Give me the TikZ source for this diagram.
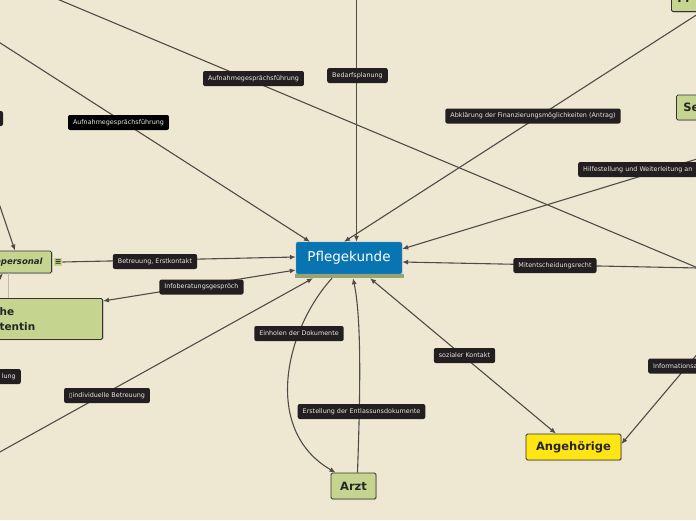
\documentclass[tikz,border=0pt]{standalone}
\usepackage{fontspec}
\setmainfont{DejaVu Sans}
\usepackage{xcolor}
\usepackage{tikz}
\usetikzlibrary{arrows.meta,positioning,calc,shadows}
\definecolor{mapbg}{RGB}{238,232,211}
\definecolor{lblbg}{RGB}{35,31,32}
\definecolor{lbltxt}{RGB}{232,230,226}
\definecolor{linkcol}{RGB}{80,75,70}
\definecolor{topicgreen}{RGB}{197,213,143}
\definecolor{topicyellow}{RGB}{255,229,20}
\definecolor{kundeblue}{RGB}{8,116,178}
\definecolor{kundebar}{RGB}{152,163,116}
\tikzset{
  lbl/.style={fill=lblbg, text=lbltxt, rounded corners=2pt, font=\fontsize{6.4}{7}\selectfont,
              minimum height=15pt, inner xsep=5pt, inner ysep=0pt},
  lblblack/.style={lbl, fill=black},
  topic/.style={draw=black!80, fill=topicgreen, rounded corners=1.5pt, line width=0.8pt,
                font=\fontsize{11.5}{13}\selectfont\bfseries, text=black!85, inner sep=0pt,
                drop shadow={shadow xshift=1pt, shadow yshift=-1pt, opacity=0.25}},
  link/.style={draw=linkcol, line width=1.1pt},
  linkarrow/.style={link, -{Latex[length=6pt,width=5pt]}},
  linkboth/.style={link, {Latex[length=6pt,width=5pt]}-{Latex[length=6pt,width=5pt]}}
}
\begin{document}
\begin{tikzpicture}[x=1pt,y=-1pt]
\useasboundingbox (0,0) rectangle (696,520);
\clip (0,0) rectangle (696,520);
\fill[mapbg] (0,0) rectangle (696,520);

\node[fill=kundeblue, draw=kundeblue!70!white, text=white, rounded corners=1.5pt,
      minimum width=106pt, minimum height=32pt, inner sep=0pt,
      font=\fontsize{13.5}{15}\selectfont] (kunde) at (349,258) {Pflegekunde};
\fill[kundebar] ([xshift=-1pt]kunde.south west) rectangle ([xshift=2pt,yshift=-4pt]kunde.south east);
\node[topic, minimum width=45pt, minimum height=26pt] (arzt) at (353.5,486) {Arzt};
\node[topic, fill=topicyellow, minimum width=95pt, minimum height=26pt] (ang) at (573.5,447) {Angehörige};
\node[topic, anchor=east, minimum height=22pt, inner xsep=9pt,
      font=\fontsize{8.5}{10}\selectfont\bfseries\itshape] (personal) at (52,262) {epersonal};
\node[fill=topicgreen, minimum size=8pt, inner sep=0pt, text=black!85,
      font=\fontsize{8}{8}\selectfont\bfseries, right=2pt of personal] (icon) {≡};
\node[topic, anchor=north east, text width=93pt, align=left, inner xsep=10pt, minimum height=41pt,
      font=\fontsize{10.5}{15}\selectfont\bfseries] (tentin) at (103,298) {he\\tentin};
\node[topic, anchor=south west, text width=48pt, align=left, inner xsep=6pt, minimum height=26pt] (fin) at (671,12) {Fi};
\node[topic, anchor=west, text width=40pt, align=left, inner xsep=7pt, minimum height=25pt] (se) at (676,107.5) {Se};

\coordinate (tlA) at (0,-25);
\coordinate (offR) at (698,268);
\coordinate (tlB) at (-20,30);
\coordinate (topC) at (356.5,-10);
\coordinate (offE) at (720,152);
\coordinate (offM) at (705,345);
\coordinate (tlN) at (-60,30);
\coordinate (blO) at (-30,310);
\coordinate (blI) at (-20,463);

\draw[link] (tlA) -- (offR);
\draw[linkarrow] (offR) -- ([yshift=-4pt]kunde.east);
\draw[linkarrow] (tlB) -- ([xshift=-39pt]kunde.north);
\draw[linkarrow] (topC) -- ([xshift=7.5pt]kunde.north);
\draw[linkarrow] ([xshift=30pt]fin.south west) -- ([xshift=-5pt]kunde.north);
\draw[linkarrow] (offE) -- ([yshift=9pt]kunde.east);
\draw[linkarrow] (icon.east) -- ([yshift=1pt]kunde.west);
\draw[linkboth] ([yshift=-3pt]tentin.north east) -- ([yshift=-12pt]kunde.west);
\draw[linkarrow] (blI) -- ([xshift=-36pt,yshift=-4pt]kunde.south);
\draw[linkarrow] ([xshift=-17pt,yshift=-4pt]kunde.south) .. controls (285,330) and (262,430) .. ([xshift=5pt]arzt.north west);
\draw[linkarrow] ([xshift=4pt]arzt.north) .. controls (360,400) and (362,320) .. ([xshift=4pt,yshift=-4pt]kunde.south);
\draw[linkboth] ([xshift=21pt,yshift=-4pt]kunde.south) -- ([xshift=-17.5pt]ang.north);
\draw[linkarrow] (offM) -- ([yshift=3pt]ang.east);
\draw[linkarrow] (tlN) -- ([xshift=-37pt]personal.north east);
\draw[linkarrow] (blO) -- ([xshift=-49pt]personal.south east);
\draw[gray!55, line width=0.8pt] ([xshift=-44pt]personal.south east) -- ([xshift=-95pt]tentin.north east);

\node[lbl] (aufnahme) at (253.5,78.5) {Aufnahmegesprächsführung};
\node[lbl] (bedarf) at (357.5,75.5) {Bedarfsplanung};
\node[lblblack] (aufnahmeb) at (118.5,122.5) {Aufnahmegesprächsführung};
\node[lbl] (abklaerung) at (533,116) {Abklärung der Finanzierungsmöglichkeiten (Antrag)};
\node[lbl, anchor=west] (hilfe) at (578,169.5) {Hilfestellung und Weiterleitung an};
\node[lbl, minimum width=66pt] (leftlbl) at (-30,118.5) {};
\node[lbl] (betreuung) at (155,261.5) {Betreuung, Erstkontakt};
\node[lbl] (info) at (201.5,287) {Infoberatungsgespröch};
\node[lbl] (mitent) at (555,265.5) {Mitentscheidungsrecht};
\node[lbl] (einholen) at (299,333.5) {Einholen der Dokumente};
\node[lbl] (sozial) at (464.5,355.5) {sozialer Kontakt};
\node[lbl, anchor=west] (informat) at (648,366) {Informationsa};
\node[lbl, anchor=east] (lung) at (21,376.5) {lung};
\node[lbl] (individ) at (107,395.5) {▯individuelle Betreuung};
\node[lbl] (erstellung) at (361.5,411.5) {Erstellung der Entlassunsdokumente};
\end{tikzpicture}
\end{document}
